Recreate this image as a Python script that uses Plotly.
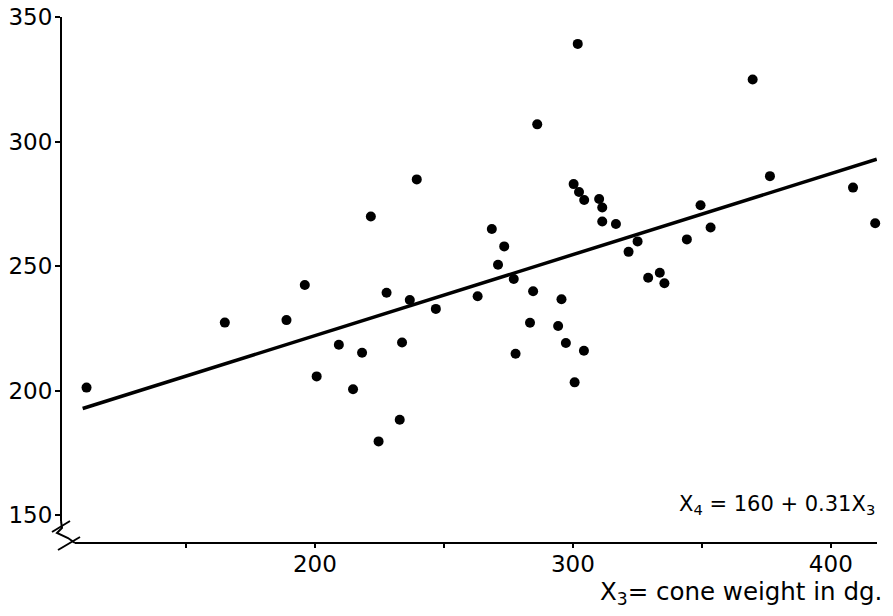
import plotly.graph_objects as go

# Data: X3 = cone weight (dg), X4
x3 = [111.5, 165.1, 189.0, 196.1, 209.3, 200.7, 214.8, 218.3, 221.7, 227.8,
      232.9, 224.7, 233.8, 236.8, 239.5, 246.9, 263.1, 268.6, 271.0, 273.4,
      277.1, 277.8, 283.4, 284.6, 286.2, 294.3, 295.6, 297.3, 300.7, 300.3,
      302.4, 304.4, 304.3, 310.2, 311.4, 311.4, 316.7, 321.6, 325.1, 329.2,
      333.7, 335.5, 344.2, 349.5, 353.4, 369.7, 376.4, 408.6, 417.2, 301.9]
x4 = [201.2, 227.3, 228.3, 242.4, 218.4, 205.7, 200.5, 215.2, 269.9, 239.3,
      188.3, 179.6, 219.3, 236.4, 284.8, 232.8, 237.9, 264.9, 250.5, 257.9,
      244.8, 214.8, 227.2, 239.9, 306.9, 225.9, 236.7, 219.1, 203.3, 282.9,
      279.7, 276.5, 216.0, 276.9, 273.5, 267.9, 266.9, 255.7, 259.9, 245.3,
      247.3, 243.1, 260.7, 274.4, 265.5, 324.9, 286.1, 281.5, 267.2, 339.2]

# Fitted line as drawn
fit_x = [110.0, 417.8]
fit_y = [192.8, 292.9]

x_tickvals = [150, 200, 250, 300, 350, 400]
x_ticktext = ["", "200", "", "300", "", "400"]
y_tickvals = [150, 200, 250, 300, 350]
y_ticktext = ["150", "200", "250", "300", "350"]

W, H = 893, 616
L, R, T, B = 61, 16, 17, 74
PW, PH = W - L - R, H - T - B

def px(xp):
    return (xp - L) / PW

def py(yp):
    return (H - B - yp) / PH

FONT = "DejaVu Sans"

fig = go.Figure()
fig.add_trace(go.Scatter(x=fit_x, y=fit_y, mode="lines",
                         line=dict(color="black", width=3.5),
                         cliponaxis=False, showlegend=False, hoverinfo="skip"))
fig.add_trace(go.Scatter(x=x3, y=x4, mode="markers",
                         marker=dict(color="black", size=10),
                         cliponaxis=False, showlegend=False))

line = dict(color="black", width=2)
shapes = [
    # y axis
    dict(type="line", xref="paper", yref="paper", x0=px(61), x1=px(61), y0=1, y1=py(521), line=line),
    # x axis
    dict(type="line", xref="paper", yref="paper", x0=px(75), x1=1, y0=py(543), y1=py(543), line=line),
    # break marks
    dict(type="path", xref="paper", yref="paper",
         path=f"M {px(61)},{py(521)} L {px(62)},{py(528)} L {px(57)},{py(533)} L {px(68)},{py(538)} L {px(75)},{py(543)}",
         line=line),
    dict(type="line", xref="paper", yref="paper", x0=px(52), x1=px(70), y0=py(532), y1=py(521), line=line),
    dict(type="line", xref="paper", yref="paper", x0=px(58), x1=px(80), y0=py(550), y1=py(537), line=line),
]

fig.update_layout(
    width=W, height=H,
    margin=dict(l=L, r=R, t=T, b=B, pad=0, autoexpand=False),
    paper_bgcolor="white", plot_bgcolor="white",
    font=dict(family=FONT, color="black", size=23),
    shapes=shapes,
    xaxis=dict(range=[101.6, 417.9], showgrid=False, zeroline=False, showline=False,
               automargin=False,
               tickmode="array", tickvals=x_tickvals, ticktext=x_ticktext,
               ticks="outside", ticklen=5, tickwidth=2, tickcolor="black",
               ticklabelstandoff=-4,
               tickfont=dict(family=FONT, size=23, color="black")),
    yaxis=dict(range=[139.2, 350], showgrid=False, zeroline=False, showline=False,
               automargin=False,
               tickmode="array", tickvals=y_tickvals, ticktext=y_ticktext,
               ticks="outside", ticklen=5, tickwidth=2, tickcolor="black",
               ticklabelstandoff=-2,
               tickfont=dict(family=FONT, size=23, color="black")),
    annotations=[
        dict(text="X<sub>4</sub> = 160 + 0.31X<sub>3</sub>", xref="paper", yref="paper",
             x=1.0, y=py(505), xanchor="right", yanchor="middle", showarrow=False,
             font=dict(family=FONT, size=21, color="black")),
        dict(text="X<sub>3</sub>= cone weight in dg.", xref="paper", yref="paper",
             x=px(884), y=py(593), xanchor="right", yanchor="middle", showarrow=False,
             font=dict(family=FONT, size=24.5, color="black")),
    ],
)

fig.write_html("out.html")
